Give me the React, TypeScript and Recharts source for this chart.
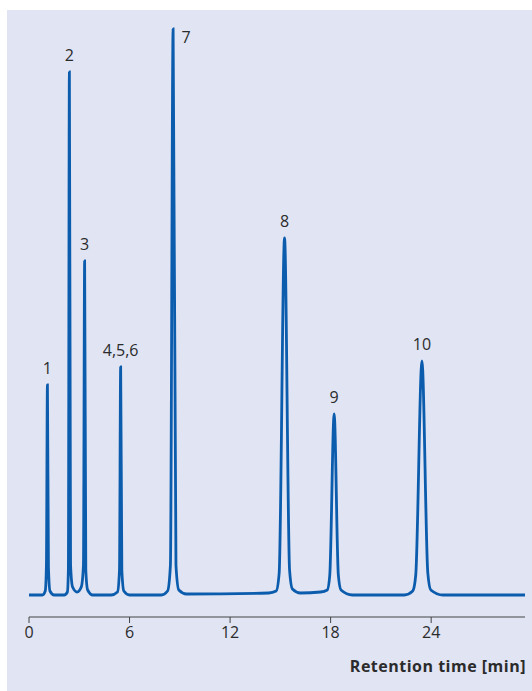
import { LineChart, Line, XAxis, YAxis, LabelList } from "recharts";

// retention time [min] and detector signal (baseline = 0)
const times = [
  0, 0.8, 0.97, 1.04, 1.1, 1.16, 1.25, 1.5,
  2.1, 2.29, 2.35, 2.41, 2.48, 2.6, 2.87, 3.12, 3.25, 3.32, 3.39, 3.5, 3.8,
  4.9, 5.28, 5.4, 5.47, 5.54, 5.66, 6.0,
  7.9, 8.27, 8.44, 8.6, 8.77, 8.94, 9.4,
  14.3, 14.75, 14.93, 15.25, 15.55, 15.72, 16.2,
  17.4, 17.8, 17.95, 18.21, 18.46, 18.62, 19.3,
  22.4, 22.9, 23.08, 23.45, 23.8, 23.98, 24.7,
  29.6,
];
const signal = [
  0, 0, 4, 30, 210, 28, 4, 0,
  0, 3, 25, 523, 30, 8, 3, 8, 30, 334, 25, 5, 0,
  0, 3, 25, 228, 25, 4, 0,
  0, 4, 30, 566, 30, 5, 1,
  2, 4, 22, 357, 25, 6, 2,
  3, 5, 20, 181, 20, 5, 0,
  0, 4, 20, 234, 22, 5, 0,
  0,
];
const peakNames = ["1", "2", "3", "4,5,6", "7", "8", "9", "10"];
const peakTimes = [1.1, 2.41, 3.32, 5.47, 8.6, 15.25, 18.21, 23.45];
const xTicks = [0, 6, 12, 18, 24];

const data = times.map((t, i) => {
  const k = peakTimes.indexOf(t);
  return { t, v: signal[i], peak: k >= 0 ? peakNames[k] : undefined };
});

const FONT = "Open Sans, sans-serif";

const PeakLabel = (props: any) => {
  const { x, y, value } = props;
  if (!value) return null;
  const is7 = value === "7";
  return (
    <text
      x={x + (is7 ? 13 : 0)}
      y={is7 ? y + 14 : y - 11}
      textAnchor="middle"
      fontSize={16}
      fill="#2b2b2b"
      fontFamily={FONT}
    >
      {value}
    </text>
  );
};

export default function App() {
  return (
    <div style={{ position: "absolute", left: 0, top: 0, width: 532, height: 691, background: "#fff" }}>
      <div
        style={{ position: "absolute", left: 7, top: 10, width: 525, height: 681, background: "#e0e4f3" }}
      />
      <div style={{ position: "absolute", left: 0, top: 0 }}>
        <LineChart width={532} height={691} data={data} margin={{ top: 29, right: 7, bottom: 44, left: 29 }}>
          <XAxis
            dataKey="t"
            type="number"
            domain={[0, 29.6]}
            ticks={xTicks}
            tickSize={6}
            tickMargin={4}
            stroke="#444"
            tick={{ fill: "#2b2b2b", fontSize: 16, fontFamily: FONT }}
          />
          <YAxis hide domain={[-22, 566]} />
          <Line
            type="monotone"
            dataKey="v"
            stroke="#0b5cad"
            strokeWidth={2.8}
            dot={false}
            isAnimationActive={false}
          >
            <LabelList dataKey="peak" content={PeakLabel} />
          </Line>
        </LineChart>
      </div>
      <div
        style={{
          position: "absolute",
          right: 6,
          top: 655,
          fontFamily: FONT,
          fontWeight: 700,
          fontSize: 16,
          letterSpacing: 0.5,
          color: "#2b2b2b",
          whiteSpace: "nowrap",
        }}
      >
        Retention time [min]
      </div>
    </div>
  );
}
